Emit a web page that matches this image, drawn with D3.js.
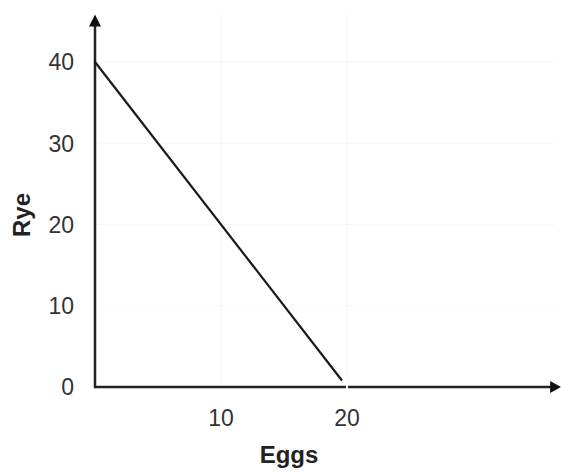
<!DOCTYPE html>
<html><head><meta charset="utf-8">
<script src="https://cdn.jsdelivr.net/npm/d3@7"></script>
<style>body{margin:0;background:#fff}svg{display:block}</style>
</head><body><svg id="c" width="561" height="472"></svg>
<script>
const eggs = [0, 19.6];
const rye = [40, 0.8];
const xTicks = [10, 20];
const yTicks = [0, 10, 20, 30, 40];

const svg = d3.select("#c");
const x = d3.scaleLinear().domain([0, 20]).range([95, 347]);
const y = d3.scaleLinear().domain([0, 40]).range([387, 62]);
const font = "'Liberation Sans', Arial, sans-serif";

// very faint gridlines
svg.selectAll(".gy").data(yTicks.filter(d=>d>0)).enter().append("line")
  .attr("x1", x(0)).attr("x2", x(36.5)).attr("y1", d=>y(d)).attr("y2", d=>y(d))
  .attr("stroke", "#f8f8f8").attr("stroke-width", 1);
svg.selectAll(".gx").data(xTicks).enter().append("line")
  .attr("x1", d=>x(d)).attr("x2", d=>x(d)).attr("y1", y(0)).attr("y2", y(46))
  .attr("stroke", "#f8f8f8").attr("stroke-width", 1);

// axes
const axisColor = "#222";
svg.append("line").attr("x1", x(0)).attr("x2", x(36.2)).attr("y1", y(0)).attr("y2", y(0))
  .attr("stroke", axisColor).attr("stroke-width", 2.5);
svg.append("line").attr("x1", x(0)).attr("x2", x(0)).attr("y1", y(0)+1.25).attr("y2", y(44.5))
  .attr("stroke", axisColor).attr("stroke-width", 2.5);
// arrowheads
const ax = x(36.2), ay = y(0);
svg.append("path").attr("d", `M${ax-1},${ay-6} L${ax+10},${ay} L${ax-1},${ay+6} Z`).attr("fill", "#111");
const tx = x(0), ty = y(44.5);
svg.append("path").attr("d", `M${tx-6},${ty+1} L${tx},${ty-11} L${tx+6},${ty+1} Z`).attr("fill", "#111");

// white tick gap at 20
svg.append("line").attr("x1", x(20)).attr("x2", x(20)).attr("y1", y(0)-6).attr("y2", y(0)+5)
  .attr("stroke", "#fff").attr("stroke-width", 2);

// data line
svg.append("path").datum(eggs.map((e,i)=>[e, rye[i]]))
  .attr("d", d3.line().x(d=>x(d[0])).y(d=>y(d[1])))
  .attr("fill", "none").attr("stroke", "#1a1a1a").attr("stroke-width", 2.2);

// tick labels
svg.selectAll(".yl").data(yTicks).enter().append("text")
  .attr("x", 74).attr("y", d=>y(d)).attr("dy", "0.36em").attr("text-anchor", "end")
  .attr("font-family", font).attr("font-size", 23).attr("fill", "#333").text(d=>d);
svg.selectAll(".xl").data(xTicks).enter().append("text")
  .attr("x", d=>x(d)).attr("y", 418).attr("dy", "0.36em").attr("text-anchor", "middle")
  .attr("font-family", font).attr("font-size", 23).attr("fill", "#333").text(d=>d);

// axis titles
svg.append("text").attr("x", 289).attr("y", 463).attr("text-anchor", "middle")
  .attr("font-family", font).attr("font-size", 24).attr("font-weight", "bold").attr("fill", "#222").text("Eggs");
svg.append("text").attr("transform", "translate(30,215) rotate(-90)").attr("text-anchor", "middle")
  .attr("font-family", font).attr("font-size", 24).attr("font-weight", "bold").attr("fill", "#222").text("Rye");
</script></body></html>
